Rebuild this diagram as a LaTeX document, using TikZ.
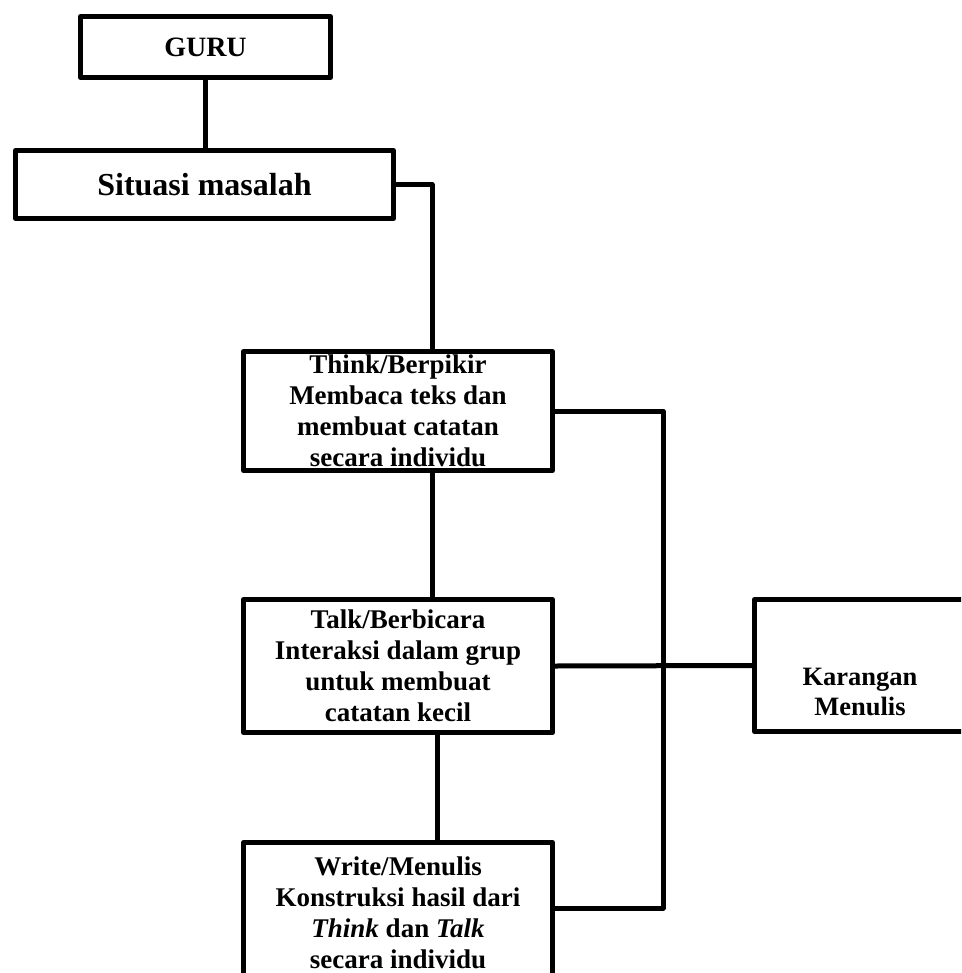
\documentclass[tikz,border=0pt]{standalone}
\usepackage{fontspec}
\setmainfont{Liberation Serif}
\begin{document}
\begin{tikzpicture}[x=1pt,y=-1pt,line width=5pt,line join=round,
  box/.style={draw,rectangle,inner sep=0pt,align=center,
    font=\bfseries\fontsize{27}{31}\selectfont},
  plain/.style={inner sep=0pt,align=center,
    font=\bfseries\fontsize{26.5}{30}\selectfont}]
\clip (0,0) rectangle (961,973);
\node[box,minimum width=250pt,minimum height=61pt,
  font=\bfseries\fontsize{28}{32}\selectfont] (guru) at (205.5,47) {GURU};
\node[box,minimum width=378pt,minimum height=68pt,
  font=\bfseries\fontsize{32}{36}\selectfont] (situasi) at (204.5,184.5) {Situasi masalah};
\node[box,minimum width=309pt,minimum height=119pt] (think) at (398,411)
  {Think/Berpikir\\Membaca teks dan\\membuat catatan\\secara individu};
\node[box,minimum width=309pt,minimum height=133pt] (talk) at (398,666)
  {Talk/Berbicara\\Interaksi dalam grup\\untuk membuat\\catatan kecil};
\node[box,minimum width=309pt,minimum height=141pt] (write) at (398,913)
  {Write/Menulis\\Konstruksi hasil dari\\\textit{Think} dan \textit{Talk}\\secara individu};
\node[draw,rectangle,minimum width=213pt,minimum height=132pt] (karangan) at (861,665.5) {};
\node[plain] (karangantext) at (860,692) {Karangan\\Menulis};
\coordinate (bus) at (663,0);
\draw (guru.south) -- (guru.south |- situasi.north);
\draw (situasi.east) -| ([xshift=34pt]think.north);
\draw ([xshift=34pt]think.south) -- ([xshift=34pt]think.south |- talk.north);
\draw ([xshift=39pt]talk.south) -- ([xshift=39pt]talk.south |- write.north);
\draw (think.east) -- (think.east -| bus) -- ([yshift=5pt]write.east -| bus) -- ([yshift=5pt]write.east);
\draw (talk.east) -- (karangan.west);
\end{tikzpicture}
\end{document}
